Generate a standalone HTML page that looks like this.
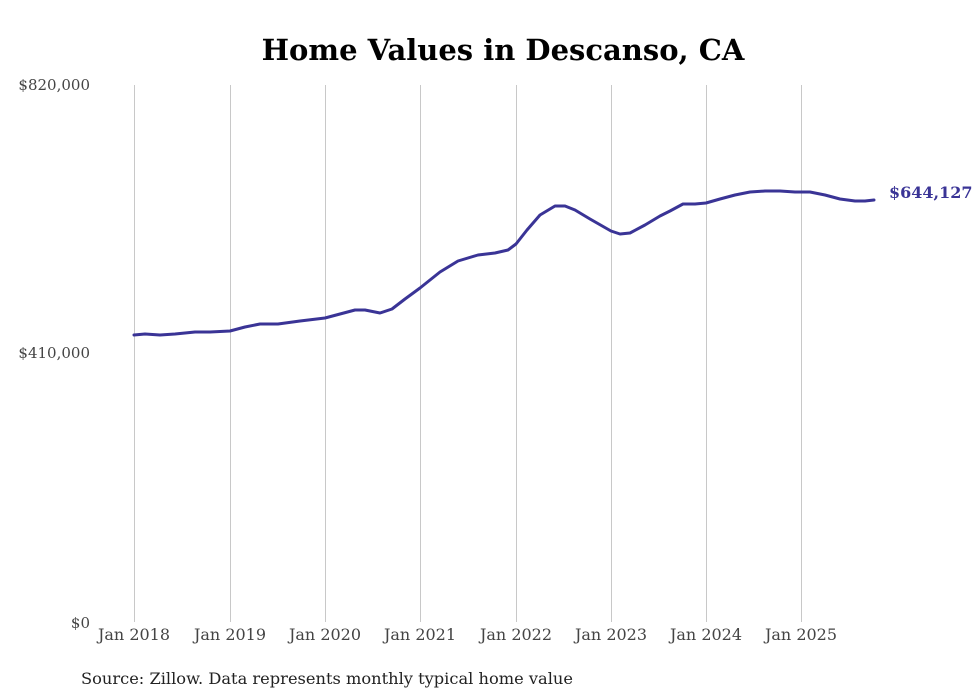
<!DOCTYPE html>
<html><head><style>body{margin:0;background:#fff}svg{display:block}</style></head><body>
<svg width="980" height="699" xmlns="http://www.w3.org/2000/svg" font-family="'DejaVu Serif',serif">
<rect width="980" height="699" fill="#fff"/>
<text x="503" y="60" text-anchor="middle" font-size="29" font-weight="bold" fill="#000">Home Values in Descanso, CA</text>
<g stroke="#c8c8c8" stroke-width="1">
<line x1="134.5" y1="85" x2="134.5" y2="622"/><line x1="230.5" y1="85" x2="230.5" y2="622"/>
<line x1="325.5" y1="85" x2="325.5" y2="622"/><line x1="420.5" y1="85" x2="420.5" y2="622"/>
<line x1="516.5" y1="85" x2="516.5" y2="622"/><line x1="611.5" y1="85" x2="611.5" y2="622"/>
<line x1="706.5" y1="85" x2="706.5" y2="622"/><line x1="801.5" y1="85" x2="801.5" y2="622"/>
</g>
<g font-size="15" fill="#444">
<text x="90" y="90" text-anchor="end">$820,000</text>
<text x="90" y="358" text-anchor="end">$410,000</text>
<text x="90" y="628" text-anchor="end">$0</text>
<g text-anchor="middle" font-size="16">
<text x="134" y="640">Jan 2018</text><text x="230" y="640">Jan 2019</text><text x="325" y="640">Jan 2020</text><text x="420" y="640">Jan 2021</text><text x="516" y="640">Jan 2022</text><text x="611" y="640">Jan 2023</text><text x="706" y="640">Jan 2024</text><text x="801" y="640">Jan 2025</text>
</g>
<text x="81" y="684" fill="#222" font-size="16" textLength="492" lengthAdjust="spacingAndGlyphs">Source: Zillow. Data represents monthly typical home value</text>
</g>
<polyline fill="none" stroke="#3a3496" stroke-width="3" stroke-linejoin="round" stroke-linecap="round" points="134,335 145,334 160,335 175,334 195,332 210,332 230,331 245,327 260,324 278,324 300,321 325,318 340,314 355,310 365,310 380,313 392,309 405,299 420,288 440,272 458,261 478,255 495,253 508,250 516,244 527,230 540,215 555,206 565,206 575,210 590,219 611,231 620,234 630,233 645,225 660,216 670,211 683,204 695,204 706,203 720,199 735,195 750,192 765,191 780,191 795,192 810,192 825,195 840,199 855,201 865,201 874,200"/>
<text x="889" y="198" font-size="16" font-weight="bold" fill="#3a3496">$644,127</text>
</svg>
</body></html>
